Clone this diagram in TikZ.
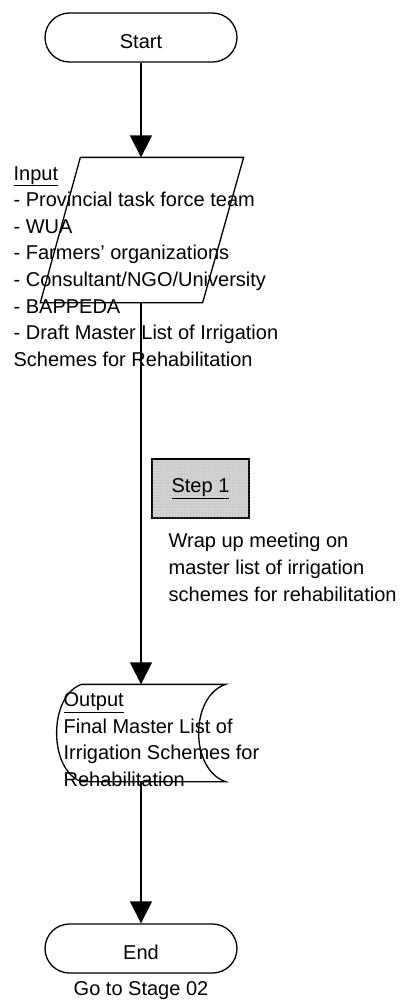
\documentclass[tikz,border=0pt]{standalone}
\usepackage{fontspec}
\setmainfont{Liberation Sans}
\usepackage{tikz}
\usetikzlibrary{arrows.meta,patterns}

\tikzset{
  term/.style={draw,rounded corners=24.5pt,minimum width=192pt,minimum height=49pt,
    inner sep=0pt,text height=21.5pt,text depth=0pt},
  frame/.style={minimum width=#1,inner sep=0pt},
  stepbox/.style={draw,fill=black!20,postaction={pattern=dots,pattern color=white},
    minimum width=97pt,minimum height=59pt},
  flow/.style={-{Triangle[length=22pt,width=22pt]}},
  txt/.style={align=left,inner sep=0pt,anchor=north west}
}

\begin{document}
\begin{tikzpicture}[x=1pt,y=-1pt,line width=1.3pt,font=\fontsize{20}{26.6}\selectfont]
  \useasboundingbox (0,0) rectangle (402,1001);

  \node[term] (start) at (141,37.5) {Start};

  % input parallelogram
  \node[frame=202pt,minimum height=144pt] (input) at (142,230) {};
  \draw ([xshift=40pt]input.north west) -- (input.north east)
    -- ([xshift=-41pt]input.south east) -- (input.south west) -- cycle;
  \node[txt] (inputtext) at (13,165.7) {\underline{Input}\\
    - Provincial task force team\\
    - WUA\\
    - Farmers’ organizations\\
    - Consultant/NGO/University\\
    - BAPPEDA\\
    - Draft Master List of Irrigation\\
    Schemes for Rehabilitation};

  \node[stepbox] (step1) at (200.5,488.5) {\underline{Step 1}};
  \node[txt] (stepnote) at (168,532.7) {Wrap up meeting on\\
    master list of irrigation\\
    schemes for rehabilitation};

  % stored data shape for the output
  \node[frame=168pt,minimum height=96pt] (output) at (141,733) {};
  \draw ([xshift=25pt]output.north west) -- (output.north east)
    .. controls +(-36,12) and +(-36,-12) .. (output.south east)
    -- ([xshift=25pt]output.south west)
    .. controls +(-33,-12) and +(-33,12) .. cycle;
  \node[txt] (outputtext) at (63,692) {\underline{Output}\\
    Final Master List of\\
    Irrigation Schemes for\\
    Rehabilitation};

  \node[term] (end) at (141,948.5) {End};
  \node[anchor=base,inner sep=0pt] (stagenote) at (141,995) {Go to Stage 02};

  \draw[flow] (start.south) -- (start.south |- input.north);
  \draw[flow] (output.north |- input.south) -- (output.north);
  \draw[flow] (output.south) -- (end.north);
\end{tikzpicture}
\end{document}
